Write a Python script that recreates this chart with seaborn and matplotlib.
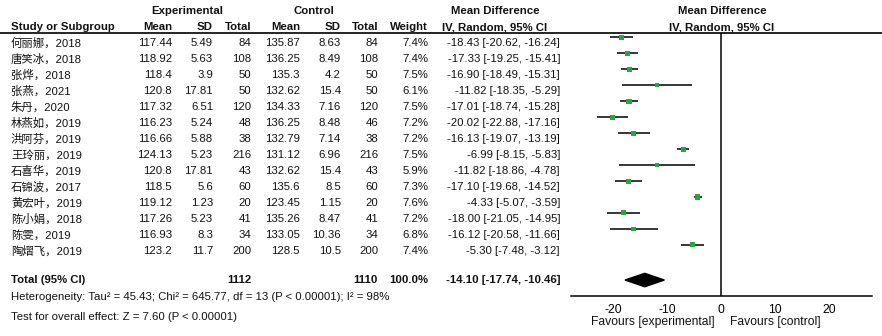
import numpy as np
import pandas as pd
import matplotlib
matplotlib.use("Agg")
import matplotlib.pyplot as plt
import seaborn as sns

# study data
studies = ["何丽娜，2018", "唐笑冰，2018", "张烨，2018", "张燕，2021", "朱丹，2020",
           "林燕如，2019", "洪阿芬，2019", "王玲丽，2019", "石喜华，2019", "石锦波，2017",
           "黄宏叶，2019", "陈小娟，2018", "陈雯，2019", "陶熠飞，2019"]
exp_mean = [117.44, 118.92, 118.4, 120.8, 117.32, 116.23, 116.66, 124.13, 120.8, 118.5,
            119.12, 117.26, 116.93, 123.2]
exp_sd = [5.49, 5.63, 3.9, 17.81, 6.51, 5.24, 5.88, 5.23, 17.81, 5.6, 1.23, 5.23, 8.3, 11.7]
exp_n = [84, 108, 50, 50, 120, 48, 38, 216, 43, 60, 20, 41, 34, 200]
ctl_mean = [135.87, 136.25, 135.3, 132.62, 134.33, 136.25, 132.79, 131.12, 132.62, 135.6,
            123.45, 135.26, 133.05, 128.5]
ctl_sd = [8.63, 8.49, 4.2, 15.4, 7.16, 8.48, 7.14, 6.96, 15.4, 8.5, 1.15, 8.47, 10.36, 10.5]
ctl_n = [84, 108, 50, 50, 120, 46, 38, 216, 43, 60, 20, 41, 34, 200]
weight = [7.4, 7.4, 7.5, 6.1, 7.5, 7.2, 7.2, 7.5, 5.9, 7.3, 7.6, 7.2, 6.8, 7.4]
md = [-18.43, -17.33, -16.90, -11.82, -17.01, -20.02, -16.13, -6.99, -11.82, -17.10,
      -4.33, -18.00, -16.12, -5.30]
ci_lo = [-20.62, -19.25, -18.49, -18.35, -18.74, -22.88, -19.07, -8.15, -18.86, -19.68,
         -5.07, -21.05, -20.58, -7.48]
ci_hi = [-16.24, -15.41, -15.31, -5.29, -15.28, -17.16, -13.19, -5.83, -4.78, -14.52,
         -3.59, -14.95, -11.66, -3.12]
total_exp, total_ctl = 1112, 1110
pooled = (-14.10, -17.74, -10.46)
xticks = [-20, -10, 0, 10, 20]

sns.set_theme(style="white")
plt.rcParams["font.family"] = ["Liberation Sans", "Noto Sans CJK SC", "DejaVu Sans"]
FS = 8.2

W, H = 882, 336
fig = plt.figure(figsize=(W / 100, H / 100), dpi=100)


def put(x, y, s, ha="left", bold=False, size=FS, **kw):
    fig.text(x / W, 1 - y / H, s, ha=ha, va="center", fontsize=size,
             fontweight="bold" if bold else "normal", color="#111111", **kw)


# headers
put(187, 11, "Experimental", ha="center", bold=True)
put(314, 11, "Control", ha="center", bold=True)
put(495, 11, "Mean Difference", ha="center", bold=True)
put(722, 11, "Mean Difference", ha="center", bold=True)
put(11, 27, "Study or Subgroup", bold=True)
for x, s in [(172, "Mean"), (213, "SD"), (251, "Total"), (300, "Mean"), (341, "SD"),
             (378, "Total"), (428, "Weight")]:
    put(x, 27, s, ha="right", bold=True)
put(495, 27, "IV, Random, 95% CI", ha="center", bold=True)
put(722, 27, "IV, Random, 95% CI", ha="center", bold=True)
fig.add_artist(plt.Line2D([0, 1], [1 - 32.5 / H, 1 - 32.5 / H], color="black", lw=1.2))

# table rows
for i in range(len(studies)):
    y = 43.5 + 16 * i
    put(11, y, studies[i])
    put(172, y, str(exp_mean[i]), ha="right")
    put(213, y, str(exp_sd[i]), ha="right")
    put(251, y, str(exp_n[i]), ha="right")
    put(300, y, str(ctl_mean[i]), ha="right")
    put(341, y, str(ctl_sd[i]), ha="right")
    put(378, y, str(ctl_n[i]), ha="right")
    put(428, y, f"{weight[i]:.1f}%", ha="right")
    put(560, y, f"{md[i]:.2f} [{ci_lo[i]:.2f}, {ci_hi[i]:.2f}]", ha="right")

put(11, 280, "Total (95% CI)", bold=True)
put(251, 280, str(total_exp), ha="right", bold=True)
put(378, 280, str(total_ctl), ha="right", bold=True)
put(428, 280, "100.0%", ha="right", bold=True)
put(560, 280, f"{pooled[0]:.2f} [{pooled[1]:.2f}, {pooled[2]:.2f}]", ha="right", bold=True)
put(11, 297, "Heterogeneity: Tau² = 45.43; Chi² = 645.77, df = 13 (P < 0.00001); I² = 98%")
put(11, 317, "Test for overall effect: Z = 7.60 (P < 0.00001)")

# forest panel
x0, x1, ytop, ybot = 570.7, 871.7, 32.5, 296
ax = fig.add_axes([x0 / W, 1 - ybot / H, (x1 - x0) / W, (ybot - ytop) / H])
ax.set_facecolor("none")
df = pd.DataFrame({"md": md, "lo": ci_lo, "hi": ci_hi, "w": weight,
                   "row": np.arange(len(md)) - 0.2})
ax.hlines(df["row"], df["lo"], df["hi"], color="black", lw=1.1, zorder=2)
sns.scatterplot(data=df, x="md", y="row", size="w", sizes=(9, 14), marker="s",
                color="#25a641", edgecolor="none", legend=False, ax=ax, zorder=3)
d_row = 15
ax.fill([pooled[1], pooled[0], pooled[2], pooled[0]],
        [d_row, d_row - 0.42, d_row, d_row + 0.42], color="black", zorder=3)
ax.axvline(0, color="black", lw=1.1)

ax.set_xlim(-27.8, 27.9)
ax.set_ylim(16, -0.5)
ax.set_yticks([])
ax.set_xticks(xticks)
ax.set_xticklabels([str(t) for t in xticks], fontsize=FS + 0.6, color="#111111")
ax.tick_params(axis="x", direction="inout", length=6, width=1, pad=2.5, colors="black")
for s in ["top", "left", "right"]:
    ax.spines[s].set_visible(False)
ax.spines["bottom"].set_color("black")
ax.spines["bottom"].set_linewidth(1.1)
ax.set_xlabel("")
ax.set_ylabel("")

put(715, 322.5, "Favours [experimental]", ha="right", size=8.7)
put(730, 322.5, "Favours [control]", size=8.7)

fig.savefig("out.png", dpi=100)
